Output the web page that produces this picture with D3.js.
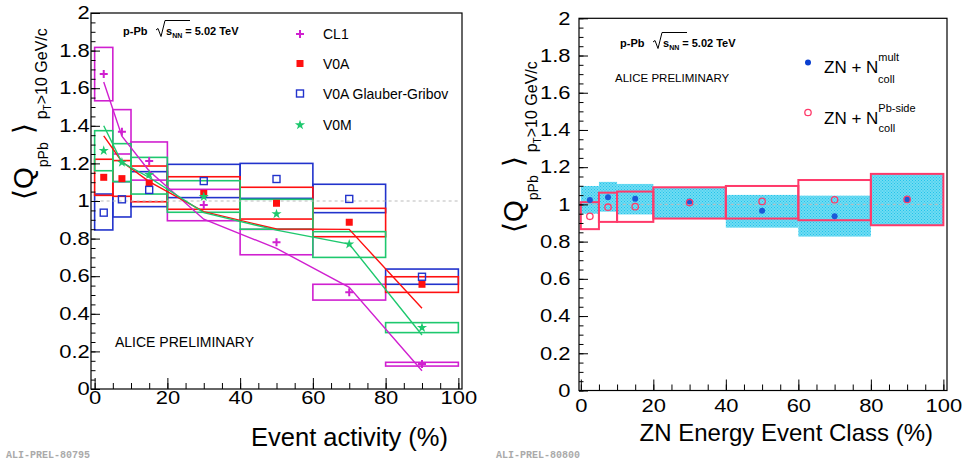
<html>
<head>
<script src="https://d3js.org/d3.v7.min.js"></script>
<style>
  body { margin: 0; background: #fff; }
  text { font-family: "Liberation Sans", Arial, "DejaVu Sans", sans-serif; }
</style>
</head>
<body>
<div id="chart"></div>
<script>
// bins in event activity (%), shared by both panels
var binEdges = [[0, 5], [5, 10], [10, 20], [20, 40], [40, 60], [60, 80], [80, 100]];
var binCenters = [2.5, 7.5, 15, 30, 50, 70, 90];

// left panel: <Q_pPb> per estimator, boxes are the systematic ranges
var cl1 = [1.676, 1.369, 1.213, 0.979, 0.780, 0.514, 0.133];
var cl1Hi = [1.817, 1.486, 1.314, 1.062, 0.849, 0.557, 0.142];
var cl1Lo = [1.533, 1.250, 1.111, 0.895, 0.714, 0.473, 0.122];
var v0a = [1.126, 1.119, 1.094, 1.041, 0.988, 0.887, 0.557];
var v0aHi = [1.222, 1.215, 1.186, 1.129, 1.073, 0.961, 0.597];
var v0aLo = [1.030, 1.025, 0.996, 0.956, 0.904, 0.810, 0.514];
var v0aGG = [0.938, 1.009, 1.059, 1.106, 1.117, 1.011, 0.597];
var v0aGGHi = [1.037, 1.103, 1.156, 1.195, 1.200, 1.089, 0.638];
var v0aGGLo = [0.846, 0.915, 0.970, 1.018, 1.014, 0.938, 0.557];
var v0m = [1.268, 1.205, 1.140, 1.023, 0.931, 0.770, 0.326];
var v0mHi = [1.374, 1.305, 1.232, 1.108, 1.009, 0.837, 0.353];
var v0mLo = [1.161, 1.103, 1.037, 0.940, 0.850, 0.700, 0.300];
// model curves at bin centres
var cl1Curve = [1.633, 1.345, 1.160, 0.903, 0.748, 0.541, 0.097];
var v0aCurve = [1.346, 1.209, 1.103, 0.943, 0.851, 0.849, 0.429];
var v0mCurve = [1.400, 1.205, 1.125, 0.938, 0.845, 0.771, 0.287];

// right panel: ZN classes
var znMult = [1.024, 1.038, 1.030, 1.015, 0.966, 0.936, 1.027];
var znMultHi = [1.099, 1.121, 1.110, 1.092, 1.051, 1.047, 1.164];
var znMultLo = [0.950, 0.961, 0.946, 0.924, 0.875, 0.827, 0.888];
var znPb = [0.936, 0.985, 0.988, 1.010, 1.016, 1.025, 1.027];
var znPbHi = [1.012, 1.063, 1.069, 1.092, 1.099, 1.131, 1.164];
var znPbLo = [0.867, 0.906, 0.906, 0.924, 0.924, 0.915, 0.888];

var xTicks = [0, 20, 40, 60, 80, 100];
var yTicks = [0, 0.2, 0.4, 0.6, 0.8, 1, 1.2, 1.4, 1.6, 1.8, 2];

var svg = d3.select("#chart").append("svg")
    .attr("width", 969)
    .attr("height", 465);

var defs = svg.append("defs");
var pat = defs.append("pattern")
    .attr("id", "hatch")
    .attr("width", 3).attr("height", 3)
    .attr("patternUnits", "userSpaceOnUse");
pat.append("rect").attr("width", 3).attr("height", 3).attr("fill", "#6fdcf3");
pat.append("rect").attr("width", 1).attr("height", 1).attr("fill", "#22c3ea");
pat.append("rect").attr("x", 1.5).attr("y", 1.5).attr("width", 1).attr("height", 1).attr("fill", "#22c3ea");

var magenta = "#d020d0", red = "#ff1010", blue = "#2233cc", green = "#1ec86e";
var pink = "#ff3a6a", dotBlue = "#1a5ad8";

// scales
var xL = d3.scaleLinear().domain([-1, 101]).range([91, 462]);
var yL = d3.scaleLinear().domain([0, 2]).range([389, 13]);
var xR = d3.scaleLinear().domain([-0.5, 101]).range([579, 947]);
var yR = d3.scaleLinear().domain([0, 2]).range([390.5, 18.3]);

function drawAxes(x, y, labPadX, labPadY) {
  var gx = svg.append("g").attr("transform", "translate(0," + y(0) + ")");
  gx.call(d3.axisBottom(x).tickValues(d3.range(0, 101, 5)).tickSizeInner(-6).tickSizeOuter(0).tickFormat(""));
  var gxm = svg.append("g").attr("transform", "translate(0," + y(0) + ")");
  gxm.call(d3.axisBottom(x).tickValues(xTicks).tickSizeInner(-11).tickSizeOuter(0).tickPadding(labPadX));
  var gy = svg.append("g").attr("transform", "translate(" + x.range()[0] + ",0)");
  gy.call(d3.axisLeft(y).tickValues(d3.range(0, 2.001, 0.05)).tickSizeInner(-4.5).tickSizeOuter(0).tickFormat(""));
  var gym = svg.append("g").attr("transform", "translate(" + x.range()[0] + ",0)");
  gym.call(d3.axisLeft(y).tickValues(yTicks).tickSizeInner(-9).tickSizeOuter(0).tickPadding(labPadY)
      .tickFormat(function(d) { return d === 0 ? "0" : d3.format("")(+d.toFixed(1)); }));
  [gx, gxm, gy, gym].forEach(function(g) {
    g.select(".domain").remove();
    g.selectAll("line").attr("stroke", "#000");
  });
  gxm.selectAll("text").style("font-size", "18px").attr("fill", "#000")
     .attr("transform", "scale(1.22,1)");
  gym.selectAll("text").style("font-size", "18px").attr("fill", "#000")
     .attr("transform", "scale(1.22,1)");
  svg.append("rect")
    .attr("x", x.range()[0]).attr("y", y.range()[1])
    .attr("width", x.range()[1] - x.range()[0])
    .attr("height", y.range()[0] - y.range()[1])
    .attr("fill", "none").attr("stroke", "#000").attr("stroke-width", 1.2);
}

function unityLine(x, y) {
  svg.append("line")
    .attr("x1", x(0)).attr("x2", x(100))
    .attr("y1", y(1)).attr("y2", y(1))
    .attr("stroke", "#bbb").attr("stroke-dasharray", "3,3").attr("stroke-width", 1);
}

function boxes(x, y, hi, lo, color, fill, sw) {
  svg.append("g").selectAll("rect")
    .data(binEdges)
    .enter().append("rect")
      .attr("x", function(d) { return x(d[0]); })
      .attr("width", function(d) { return x(d[1]) - x(d[0]); })
      .attr("y", function(d, i) { return y(hi[i]); })
      .attr("height", function(d, i) { return y(lo[i]) - y(hi[i]); })
      .attr("fill", fill)
      .attr("stroke", color)
      .attr("stroke-width", sw);
}

function curve(x, y, vals, color) {
  svg.append("path")
    .datum(vals)
    .attr("fill", "none")
    .attr("stroke", color)
    .attr("stroke-width", 1.4)
    .attr("d", d3.line()
      .x(function(d, i) { return x(binCenters[i]); })
      .y(function(d) { return y(d); }));
}

function marker(g, type, cx, cy, color) {
  if (type == "plus") {
    g.append("path").attr("d", "M" + (cx - 4) + "," + cy + "h8M" + cx + "," + (cy - 4) + "v8")
      .attr("stroke", color).attr("stroke-width", 2);
  } else if (type == "square") {
    g.append("rect").attr("x", cx - 3.5).attr("y", cy - 3.5).attr("width", 7).attr("height", 7).attr("fill", color);
  } else if (type == "open") {
    g.append("rect").attr("x", cx - 3.5).attr("y", cy - 3.5).attr("width", 7).attr("height", 7)
      .attr("fill", "none").attr("stroke", color).attr("stroke-width", 1.4);
  } else if (type == "star") {
    g.append("path").attr("d", d3.symbol(d3.symbolStar).size(32)())
      .attr("transform", "translate(" + cx + "," + cy + ")").attr("fill", color);
  } else if (type == "dot") {
    g.append("circle").attr("cx", cx).attr("cy", cy).attr("r", 3).attr("fill", color);
  } else if (type == "ring") {
    g.append("circle").attr("cx", cx).attr("cy", cy).attr("r", 3.2)
      .attr("fill", "none").attr("stroke", color).attr("stroke-width", 1.3);
  }
}

function points(x, y, vals, type, color) {
  var g = svg.append("g");
  vals.forEach(function(v, i) { marker(g, type, x(binCenters[i]), y(v), color); });
}

function energyLabel(x0, base) {
  var g = svg.append("g").style("font-weight", "bold");
  g.append("text").attr("x", x0).attr("y", base).style("font-size", "11px").text("p-Pb");
  g.append("path")
    .attr("d", "M" + (x0 + 33) + "," + (base - 5) + "l2,-1.5l3,8l4,-16h25")
    .attr("fill", "none").attr("stroke", "#000").attr("stroke-width", 1);
  var t = g.append("text").attr("x", x0 + 43).attr("y", base).style("font-size", "11px");
  t.append("tspan").text("s");
  t.append("tspan").attr("dy", 3).style("font-size", "7px").text("NN");
  t.append("tspan").attr("dy", -3).attr("dx", 3).text("= 5.02 TeV");
}

function yTitle(bx, by) {
  var t = svg.append("text")
    .attr("transform", "translate(" + bx + "," + by + ") rotate(-90)")
    .style("font-size", "28px");
  t.append("tspan").style("font-family", "DejaVu Sans").style("font-weight", "200").text("\u27E8");
  t.append("tspan").text("Q");
  t.append("tspan").attr("dy", 15).style("font-size", "14px").text("pPb");
  t.append("tspan").attr("dy", -15).attr("dx", 8).style("font-family", "DejaVu Sans").style("font-weight", "200").text("\u27E9");
  t.append("tspan").attr("dy", 14).attr("dx", 4).style("font-size", "16px").text("p");
  t.append("tspan").attr("dy", 4).style("font-size", "10px").text("T");
  t.append("tspan").attr("dy", -4).style("font-size", "16px").text(">10 GeV/c");
}

// ---------------- left panel ----------------
boxes(xL, yL, cl1Hi, cl1Lo, magenta, "none", 1.6);
boxes(xL, yL, v0aGGHi, v0aGGLo, blue, "none", 1.6);
boxes(xL, yL, v0aHi, v0aLo, red, "none", 1.6);
boxes(xL, yL, v0mHi, v0mLo, green, "none", 1.6);
unityLine(xL, yL);
curve(xL, yL, cl1Curve, magenta);
curve(xL, yL, v0aCurve, red);
curve(xL, yL, v0mCurve, green);
points(xL, yL, cl1, "plus", magenta);
points(xL, yL, v0a, "square", red);
points(xL, yL, v0aGG, "open", blue);
points(xL, yL, v0m, "star", green);
drawAxes(xL, yL, 2, 1);

var legL = [["plus", magenta, "CL1"], ["square", red, "V0A"], ["open", blue, "V0A Glauber-Gribov"], ["star", green, "V0M"]];
var legLY = [34, 63.5, 93.5, 125];
legL.forEach(function(d, i) {
  var g = svg.append("g");
  marker(g, d[0], 300, legLY[i], d[1]);
  g.append("text").attr("x", 323).attr("y", legLY[i] + 5).style("font-size", "14px").text(d[2]);
});
energyLabel(123, 35);
svg.append("text").attr("x", 115).attr("y", 346.5).style("font-size", "14px").text("ALICE PRELIMINARY");
svg.append("text").attr("x", 448).attr("y", 446).attr("text-anchor", "end").style("font-size", "25.5px").text("Event activity (%)");
yTitle(33, 200);
svg.append("text").attr("x", 6).attr("y", 458).style("font-family", "Liberation Mono, monospace")
  .style("font-size", "10px").style("font-weight", "bold").attr("fill", "#aaa").text("ALI-PREL-80795");

// ---------------- right panel ----------------
boxes(xR, yR, znMultHi, znMultLo, "none", "url(#hatch)", 0);
unityLine(xR, yR);
boxes(xR, yR, znPbHi, znPbLo, pink, "none", 2);
points(xR, yR, znMult, "dot", dotBlue);
points(xR, yR, znPb, "ring", pink);
drawAxes(xR, yR, 9, 7);

energyLabel(620, 47);
svg.append("text").attr("x", 615).attr("y", 82).style("font-size", "11.5px").text("ALICE PRELIMINARY");

var l1 = svg.append("g");
marker(l1, "dot", 808, 62.5, "#0a3fd0");
var t1 = l1.append("text").attr("x", 824).attr("y", 73).style("font-size", "17px");
t1.append("tspan").text("ZN +  N");
t1.append("tspan").attr("dy", -12).style("font-size", "11px").text("mult");
t1.append("tspan").attr("dy", 22).attr("dx", -21).style("font-size", "11px").text("coll");
var l2 = svg.append("g");
marker(l2, "ring", 808, 112.5, pink);
var t2 = l2.append("text").attr("x", 824).attr("y", 124).style("font-size", "17px");
t2.append("tspan").text("ZN + N");
t2.append("tspan").attr("dy", -12).style("font-size", "11px").text("Pb-side");
t2.append("tspan").attr("dy", 20).attr("dx", -37).style("font-size", "11px").text("coll");

svg.append("text").attr("x", 933).attr("y", 441).attr("text-anchor", "end").style("font-size", "24px").text("ZN Energy Event Class (%)");
yTitle(523, 233);
svg.append("text").attr("x", 496).attr("y", 458).style("font-family", "Liberation Mono, monospace")
  .style("font-size", "10px").style("font-weight", "bold").attr("fill", "#aaa").text("ALI-PREL-80800");
</script>
</body>
</html>
